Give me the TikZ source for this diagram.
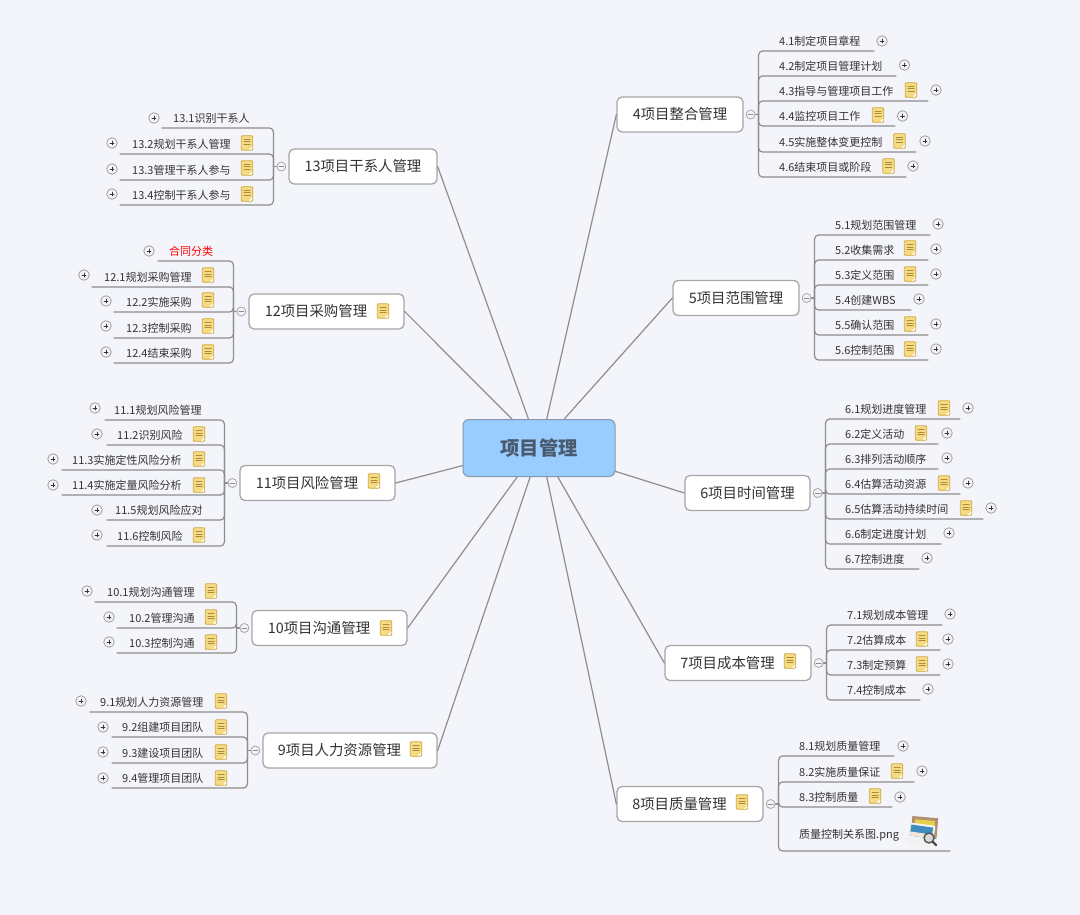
\documentclass[tikz,border=0pt]{standalone}
\usepackage{fontspec}
\setmainfont{Noto Sans CJK SC}
\definecolor{bgcol}{HTML}{F3F5FA}
\definecolor{linecol}{HTML}{8E8E8E}
\definecolor{boxcol}{HTML}{A6A6A6}
\definecolor{rootcol}{HTML}{99CCFF}
\definecolor{rootedge}{HTML}{8499AF}
\definecolor{roottext}{HTML}{4A5A6E}
\definecolor{subtext}{HTML}{333333}
\definecolor{notefill}{HTML}{F4DC84}
\definecolor{noteedge}{HTML}{D3A63F}
\definecolor{noteline}{HTML}{B08A3A}
\newcommand{\notegap}{\rule{21pt}{0pt}}
\tikzset{
	rootbox/.style={draw=rootedge,fill=rootcol,line width=1pt,rounded corners=6pt,minimum width=152pt,minimum height=57pt,inner sep=0pt,font=\fontsize{19.3}{19}\selectfont\bfseries,text=roottext},
	topic/.style={draw=boxcol,fill=white,line width=1.3pt,rounded corners=5pt,minimum height=35pt,inner sep=0pt,font=\fontsize{14.4}{14.4}\selectfont,text=subtext},
	sub/.style={inner xsep=0pt,inner ysep=4pt,text height=9.5pt,text depth=1pt,font=\fontsize{11}{11}\selectfont,text=subtext},
	spoke/.style={draw=linecol,line width=1.2pt},
	branch/.style={draw=linecol,line width=1.2pt,rounded corners=4pt},
	collapse/.style={circle,draw=boxcol,fill=bgcol,line width=.8pt,minimum size=9pt,inner sep=0pt,path picture={\draw[linecol,line width=.7pt] ([xshift=-2.5pt]path picture bounding box.center) -- ([xshift=2.5pt]path picture bounding box.center);}},
	expand/.style={circle,draw=boxcol,fill=bgcol,line width=.9pt,minimum size=10.5pt,inner sep=0pt,path picture={\draw[subtext,line width=.55pt] ([xshift=-2pt]path picture bounding box.center) -- ([xshift=2pt]path picture bounding box.center) ([yshift=-2pt]path picture bounding box.center) -- ([yshift=2pt]path picture bounding box.center);}},
	note/.style={draw=noteedge,fill=notefill,line width=.9pt,rounded corners=1pt,minimum width=11.5pt,minimum height=14.5pt,inner sep=0pt,path picture={
		\foreach \s in {3.5,6,8.5}
		\draw[noteline,line width=.5pt] ([xshift=2.5pt,yshift=-\s pt]path picture bounding box.north west) -- ([xshift=-2.5pt,yshift=-\s pt]path picture bounding box.north east);
		\fill[white] ([xshift=-4.5pt]path picture bounding box.south east) -- ([yshift=4.5pt]path picture bounding box.south east) -- (path picture bounding box.south east) -- cycle;
	}},
	photo/.style={minimum width=30pt,minimum height=30pt,inner sep=0pt},
}
\begin{document}
\begin{tikzpicture}[x=1pt,y=-1pt,line join=round,line cap=round]
	\useasboundingbox (0,0) rectangle (1080,915);
	\fill[bgcol] (0,0) rectangle (1080,915);
	\node[rootbox] (root) at (539,448) {项目管理};
	% right topics
	\foreach \nm/\cx/\cy/\ww/\txt in {
		4/680/114.5/126/4项目整合管理,
		5/736/298/126/5项目范围管理,
		6/747.5/493/125/6项目时间管理,
		7/738/663/146/7项目成本管理\notegap,
		8/690/804/146/8项目质量管理\notegap}{
		\node[topic,minimum width=\ww] (t\nm) at (\cx,\cy) {\txt};
		\node[collapse] (m\nm) at ([xshift=7pt]t\nm.east) {};
		\draw[spoke] (m\nm.east) -- ++(3,0);
	}
	% left topics
	\foreach \nm/\cx/\cy/\ww/\txt in {
		13/363/166.5/148/13项目干系人管理,
		12/326.5/311.5/155/12项目采购管理\notegap,
		11/317.5/483/155/11项目风险管理\notegap,
		10/329.5/628/155/10项目沟通管理\notegap,
		9/350/750.5/174/9项目人力资源管理\notegap}{
		\node[topic,minimum width=\ww] (t\nm) at (\cx,\cy) {\txt};
		\node[collapse] (m\nm) at ([xshift=-7pt]t\nm.west) {};
		\draw[spoke] (m\nm.west) -- ++(-3,0);
	}
	% spokes
	\foreach \nm/\aa in {4/75,5/49,6/-17,7/-57,8/-75}
	\draw[spoke] (root.\aa) -- (t\nm.west);
	\foreach \nm/\aa in {13/110,12/133,11/193,10/233,9/253}
	\draw[spoke] (root.\aa) -- (t\nm.east);
	% right subtopics
	\foreach \tp/\nm/\tx/\uy/\ex/\txt in {
		4/41/779/51/874/4.1制定项目章程,
		4/42/779/76/896/4.2制定项目管理计划,
		4/43/779/101/928/4.3指导与管理项目工作,
		4/44/779/126/895/4.4监控项目工作,
		4/45/779/152/916/4.5实施整体变更控制,
		4/46/779/177/906/4.6结束项目或阶段,
		5/51/835/235/930/5.1规划范围管理,
		5/52/835/260/928/5.2收集需求,
		5/53/835/285/928/5.3定义范围,
		5/54/835/310/911/5.4创建WBS,
		5/55/835/335/928/5.5确认范围,
		5/56/835/360/928/5.6控制范围,
		6/61/845/419/960/6.1规划进度管理,
		6/62/845/444/938/6.2定义活动,
		6/63/845/469/938/6.3排列活动顺序,
		6/64/845/494/960/6.4估算活动资源,
		6/65/845/519/983/6.5估算活动持续时间,
		6/66/845/544/941/6.6制定进度计划,
		6/67/845/569/919/6.7控制进度,
		7/71/847/625/942/7.1规划成本管理,
		7/72/847/650/940/7.2估算成本,
		7/73/847/675/940/7.3制定预算,
		7/74/847/700/920/7.4控制成本,
		8/81/799/756/894/8.1规划质量管理,
		8/82/799/782/914/8.2实施质量保证,
		8/83/799/807/892/8.3控制质量,
		8/84/799/851/950/\raisebox{7pt}{质量控制关系图.png}}{
		\node[sub,anchor=south west] (n\nm) at (\tx,\uy) {\txt};
		\coordinate (e\nm) at (\ex,\uy);
		\draw[branch] ([xshift=3pt]m\tp.east) |- (n\nm.south west) -- (e\nm);
	}
	% left subtopics
	\foreach \tp/\nm/\tx/\uy/\ex/\txt in {
		13/131/173/128/162/13.1识别干系人,
		13/132/132/154/120/13.2规划干系人管理,
		13/133/132/180/120/13.3管理干系人参与,
		13/134/132/205/120/13.4控制干系人参与,
		12/120/169/261/158/\textcolor{red}{合同分类},
		12/121/104/287/92/12.1规划采购管理,
		12/122/126/312/114/12.2实施采购,
		12/123/126/338/114/12.3控制采购,
		12/124/126/363/114/12.4结束采购,
		11/111/114/420/105/11.1规划风险管理,
		11/112/117/445/107/11.2识别风险,
		11/113/72/470/62/11.3实施定性风险分析,
		11/114/72/495/62/11.4实施定量风险分析,
		11/115/115/520/107/11.5规划风险应对,
		11/116/117/546/107/11.6控制风险,
		10/101/107/602/95/10.1规划沟通管理,
		10/102/129/628/117/10.2管理沟通,
		10/103/129/653/117/10.3控制沟通,
		9/91/100/712/90/9.1规划人力资源管理,
		9/92/122/737/112/9.2组建项目团队,
		9/93/122/763/112/9.3建设项目团队,
		9/94/122/788/112/9.4管理项目团队}{
		\node[sub,anchor=south west] (n\nm) at (\tx,\uy) {\txt};
		\coordinate (e\nm) at (\ex,\uy);
		\draw[branch] ([xshift=-3pt]m\tp.west) |- (n\nm.south east) -- (e\nm);
	}
	% note icons
	\foreach \nm/\xx/\yy in {
		7/790/661,8/742/802,12/383/311,11/374/481,10/386/628,9/416/749,
		43/911/90,44/878/115,45/899.5/141,46/888.5/166,
		52/910/248,53/910/274,55/910/324,56/910/349,
		61/944/408,62/921/433,64/944/483,65/966/508,
		72/922/639,73/922/664,82/897/771,83/875/796,
		132/247/143,133/247/168,134/247/194,
		121/208/275,122/208/300,123/208/326,124/208/352,
		112/199/434,113/199/459,114/199/485,116/199/535,
		101/211/591,102/211/617,103/211/642,
		91/221/701,92/221/727,93/221/752,94/221/778}
	\node[note] (note\nm) at (\xx,\yy) {};
	% expand marks
	\foreach \nm/\xx/\yy in {
		41/882/41,42/904.5/65,43/936/90,44/902.5/116,45/925/141,46/913/166,
		51/938/224,52/936/249,53/936/274,54/919/299,55/936/324,56/936/349,
		61/968/408,62/947/433,63/947/458,64/968/483,65/991/508,66/949/533,67/927/558,
		71/950/614,72/948/639,73/948/664,74/928/689,
		81/903/746,82/922/771,83/900/797,
		131/154/118,132/112/143,133/112/169,134/112/194,
		120/149/251,121/84/275,122/106/301,123/106/326,124/106/352,
		111/95/408,112/97/434,113/53/459,114/53/485,115/97/510,116/97/535,
		101/87/591,102/109/617,103/109/642,
		91/81/701,92/103/727,93/103/752,94/103/778}
	\node[expand] (plus\nm) at (\xx,\yy) {};
	% picture icon of the last branch
	\node[photo] (img) at (923,832) {};
	\fill[brown!75!black!70,rotate around={-5:(923,832)}] (911,817) rectangle (937,838);
	\fill[brown!45!yellow!80!white,rotate around={-5:(923,832)}] (914,820) rectangle (934,835);
	\fill[white!90!gray,rotate around={-8:(921,835)}] (908,824) rectangle (934,846);
	\fill[blue!40!cyan!50!gray,rotate around={-8:(921,835)}] (910,826) rectangle (932,837);
	\fill[white!80!brown,rotate around={-8:(921,835)}] (910,833) rectangle (932,837);
	\draw[gray!70!black,line width=1.5pt,fill=gray!30] (929,838) circle (5pt);
	\draw[black!70,line width=2.2pt] (933,842) -- (936,845);
\end{tikzpicture}
\end{document}
